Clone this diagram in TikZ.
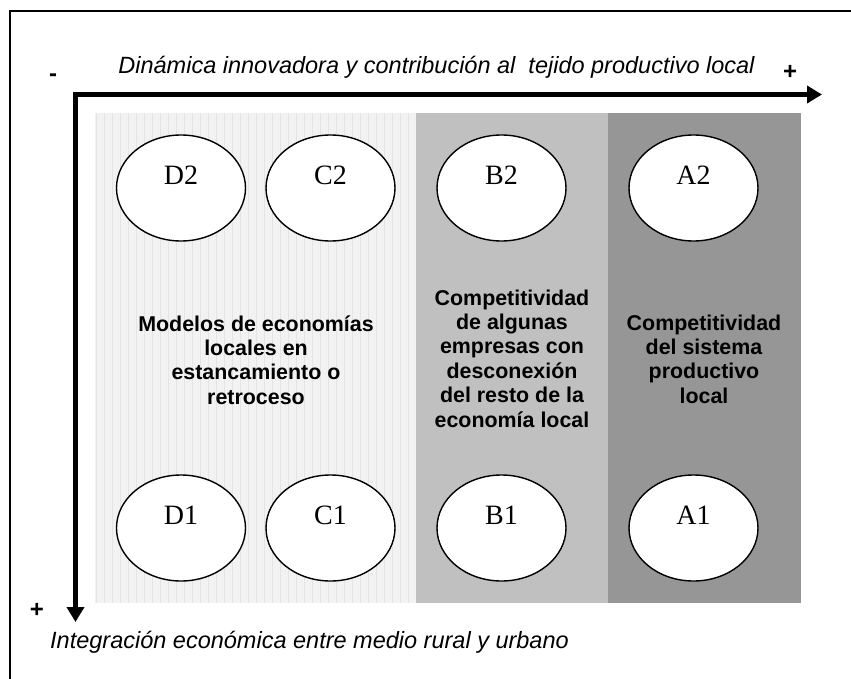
\documentclass[tikz,border=0pt]{standalone}
\usepackage{fontspec}
\setmainfont{Liberation Sans}
\newfontfamily\serifrm{Liberation Serif}
\usetikzlibrary{arrows.meta,shapes.geometric}
\definecolor{midgray}{HTML}{C0C0C0}
\definecolor{darkgrayb}{HTML}{969696}
\definecolor{lightbg}{HTML}{F2F2F2}
\definecolor{gridline}{HTML}{E4E4E4}
\begin{document}
\begin{tikzpicture}[x=1pt,y=-1pt,
  oval/.style={ellipse, draw, line width=1.4pt, fill=white, minimum width=129pt, minimum height=106pt, inner sep=0pt},
  ovallab/.style={font=\serifrm\fontsize{28}{32}\selectfont, inner sep=0pt},
  boldtxt/.style={font=\bfseries\fontsize{21.4}{24.4}\selectfont, align=center, inner sep=0pt},
  axislab/.style={font=\itshape\fontsize{23.5}{28}\selectfont, inner sep=0pt},
  sign/.style={font=\bfseries\fontsize{24}{28}\selectfont, inner sep=0pt},
  axisline/.style={line width=5pt, {Triangle[length=15pt,width=17pt]}-{Triangle[length=15pt,width=17pt]}, line join=miter}
]
\useasboundingbox (0,0) rectangle (851,679);
% frame (top and left edges)
\draw[line width=2.5pt] (851,11) -- (10,11) -- (10,679);
% shaded regions
\fill[lightbg] (95,113) rectangle (416,603);
\draw[gridline, line width=0.5pt, step=8] (95,113) grid (416,603);
\fill[midgray] (416,113) rectangle (608,603);
\fill[darkgrayb] (608,113) rectangle (801,603);
% axes
\coordinate (O) at (75.5,94.5);
\coordinate (xend) at (822,94.5);
\coordinate (yend) at (75.5,622);
\draw[axisline] (xend) -- (O) -- (yend);
% axis labels
\node[axislab, anchor=base] (toplab) at (436.5,74) {Dinámica innovadora y contribución al\ \ tejido productivo local};
\node[axislab, anchor=base west] (botlab) at (50,648) {Integración económica entre medio rural y urbano};
\node[sign] (minus) at (53,78) {-};
\node[sign] (plusx) at (790,72.5) {+};
\node[sign] (plusy) at (37,610) {+};
% ellipses
\node[oval] (D2) at (181,188) {};
\node[oval] (C2) at (330.5,188) {};
\node[oval] (B2) at (501.5,188) {};
\node[oval] (A2) at (693.5,188) {};
\node[oval] (D1) at (181,528) {};
\node[oval] (C1) at (330.5,528) {};
\node[oval] (B1) at (501.5,528) {};
\node[oval] (A1) at (693.5,528) {};
\node[ovallab] (D2t) at (181,175) {D2};
\node[ovallab] (C2t) at (330.5,175) {C2};
\node[ovallab] (B2t) at (501.5,175) {B2};
\node[ovallab] (A2t) at (693.5,175) {A2};
\node[ovallab] (D1t) at (181,515) {D1};
\node[ovallab] (C1t) at (330.5,515) {C1};
\node[ovallab] (B1t) at (501.5,515) {B1};
\node[ovallab] (A1t) at (693.5,515) {A1};
% region texts
\node[boldtxt] (lefttxt) at (256,360) {Modelos de economías\\locales en\\estancamiento o\\retroceso};
\node[boldtxt] (midtxt) at (512,358.5) {Competitividad\\de algunas\\empresas con\\desconexión\\del resto de la\\economía local};
\node[boldtxt] (righttxt) at (704,359) {Competitividad\\del sistema\\productivo\\local};
\end{tikzpicture}
\end{document}
